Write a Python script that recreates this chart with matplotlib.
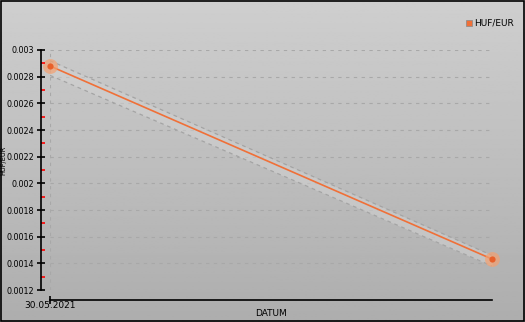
import matplotlib
matplotlib.use("Agg")
import matplotlib.pyplot as plt
import numpy as np

# data
dates = ["30.05.2021", "31.05.2021"]
rate = [0.00288, 0.001432]
band_hi = [0.00292, 0.00146]
band_lo = [0.00281, 0.00138]
series_name = "HUF/EUR"
y_ticks = [0.0012, 0.0014, 0.0016, 0.0018, 0.002, 0.0022, 0.0024, 0.0026, 0.0028, 0.003]
y_tick_labels = ["0.0012", "0.0014", "0.0016", "0.0018", "0.002", "0.0022", "0.0024", "0.0026", "0.0028", "0.003"]

W, H = 525, 322
fig = plt.figure(figsize=(W / 100, H / 100), dpi=100)

# gradient background
bg = fig.add_axes([0, 0, 1, 1], zorder=-10)
grad = np.linspace(0.81, 0.68, 256).reshape(-1, 1)
bg.imshow(grad, aspect="auto", cmap="gray", vmin=0, vmax=1, extent=[0, 1, 0, 1])
bg.set_xlim(0, 1)
bg.set_ylim(0, 1)
bg.axis("off")
bg.add_patch(plt.Rectangle((0.001, 0.002), 0.997, 0.994, fill=False, ec="black", lw=1.2))

orange = "#f07038"
fs = 6.5

# plot area: x 50..492 px, y 50..290 px
ax = fig.add_axes([50 / W, 1 - 290 / H, (492 - 50) / W, 240 / H])
ax.patch.set_alpha(0)
x = np.arange(len(dates))
ax.set_xlim(0, 1)
ax.set_ylim(0.0012, 0.003)

ax.fill_between(x, band_lo, band_hi, color="#d2d2d2", alpha=0.55, lw=0, zorder=1)
ax.plot(x, band_hi, color="#a4a4a4", lw=0.9, ls=(0, (3, 3)), zorder=2)
ax.plot(x, band_lo, color="#a4a4a4", lw=0.9, ls=(0, (3, 3)), zorder=2)
ax.plot(x, rate, color=orange, lw=1.2, zorder=3)
ax.scatter(x, rate, s=115, color="#f4a070", alpha=0.7, lw=0, zorder=4, clip_on=False)
ax.scatter(x, rate, s=20, color="#e8602a", lw=0, zorder=5, clip_on=False)

for v in y_ticks:
    ax.axhline(v, color="#a8a8a8", lw=0.8, ls=(0, (3, 4)), zorder=0)
ax.axvline(0, color="#a8a8a8", lw=0.8, ls=(0, (3, 4)), zorder=0)

for s in ax.spines.values():
    s.set_visible(False)
ax.set_xticks([])
ax.set_yticks([])

# left axis, offset from the plot
yax = fig.add_axes([41 / W, 1 - 290 / H, 0.0001, 240 / H])
yax.patch.set_alpha(0)
yax.set_ylim(0.0012, 0.003)
for k in ["top", "right", "bottom"]:
    yax.spines[k].set_visible(False)
yax.spines["left"].set_linewidth(1.2)
yax.set_xticks([])
yax.set_yticks(y_ticks)
yax.set_yticklabels(y_tick_labels, fontsize=5.8)
yax.tick_params(axis="y", direction="inout", length=6, width=1.2, pad=2)
yax.set_yticks([(a + b) / 2 for a, b in zip(y_ticks[:-1], y_ticks[1:])], minor=True)
yax.tick_params(axis="y", which="minor", direction="in", length=3, width=1.2, color="red")

# bottom axis
xax = fig.add_axes([50 / W, 1 - 300 / H, (492 - 50) / W, 0.0001])
xax.patch.set_alpha(0)
xax.set_xlim(0, 1)
for k in ["top", "right", "left"]:
    xax.spines[k].set_visible(False)
xax.spines["bottom"].set_linewidth(1.2)
xax.set_yticks([])
xax.set_xticks([0])
xax.set_xticklabels([])
xax.tick_params(axis="x", direction="inout", length=6, width=1.2)

fig.text(50 / W, 1 - 305 / H, dates[0], fontsize=fs, ha="center", va="center")
fig.text(271 / W, 1 - 313 / H, "DATUM", fontsize=fs, ha="center", va="center")
fig.text(0.5 / W, 1 - 160 / H, series_name, rotation=90, fontsize=4.8, ha="left", va="center")

# legend
fig.patches.append(plt.Rectangle((466 / W, 1 - 26 / H), 6 / W, 6 / H, transform=fig.transFigure,
                                 color=orange, ec="#888888", lw=0.5))
fig.text(474 / W, 1 - 22.5 / H, series_name, fontsize=fs, ha="left", va="center")

fig.savefig("out.png", dpi=100)
